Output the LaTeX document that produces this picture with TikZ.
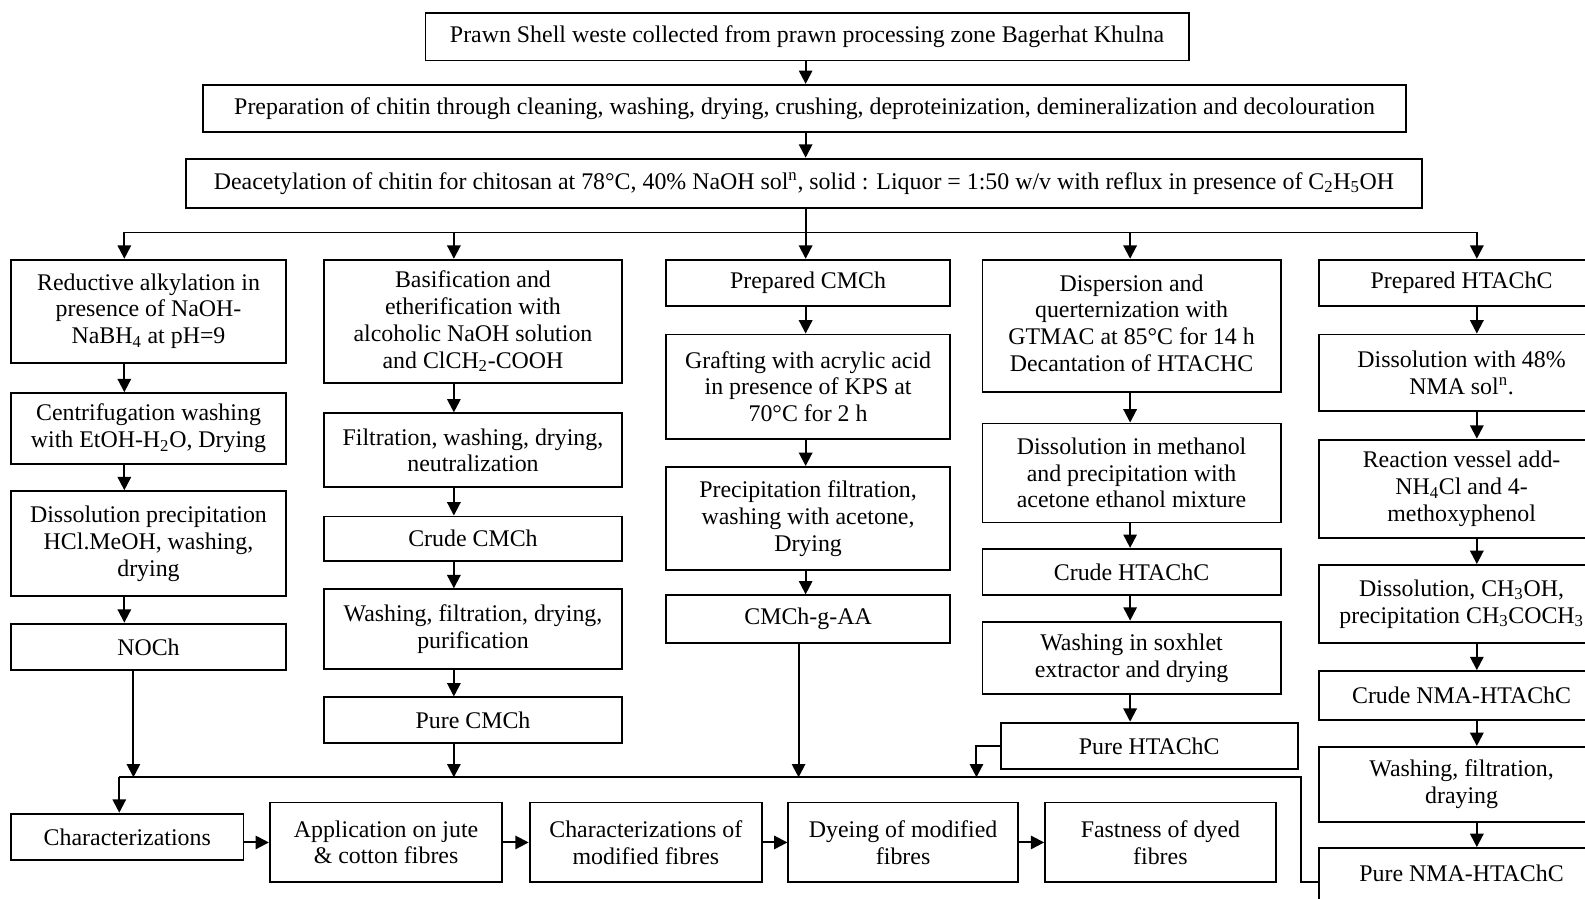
\documentclass[tikz,border=0pt]{standalone}
\usepackage{fontspec}
\setmainfont{Liberation Serif}
\usetikzlibrary{arrows.meta,calc}
\tikzset{
 box/.style={draw, line width=1.3pt, inner sep=0pt, align=center, font=\fontsize{16.8pt}{18.8pt}\selectfont, anchor=north west},
 arr/.style={line width=1.4pt, -{Triangle[width=0.33cm,length=0.33cm]}},
 ln/.style={line width=1.4pt},
}
\newcommand\mybox[6]{\node[box, minimum width={(#4-#2)*0.025cm}, minimum height={(#5-#3)*0.025cm}] (#1) at (#2,#3) {#6};}
\begin{document}
\begin{tikzpicture}[x=0.025cm,y=-0.025cm]
\clip (0,0) rectangle (1568,889);
% top
\mybox{a}{420}{12}{1175}{59}{Prawn Shell weste collected from prawn processing zone Bagerhat Khulna}
\mybox{b}{200}{83}{1390}{130}{Preparation of chitin through cleaning, washing, drying, crushing, deproteinization, demineralization and decolouration}
\mybox{c}{183}{156}{1406}{205}{Deacetylation of chitin for chitosan at 78°C, 40\% NaOH sol\textsuperscript{n}, solid : Liquor = 1:50 w/v with reflux in presence of C\textsubscript{2}H\textsubscript{5}OH}
% column 1
\mybox{p1}{10}{256}{282}{358}{Reductive alkylation in\\presence of NaOH-\\NaBH\textsubscript{4} at pH=9}
\mybox{p2}{10}{388}{282}{458}{Centrifugation washing\\with EtOH-H\textsubscript{2}O, Drying}
\mybox{p3}{10}{485}{282}{589}{Dissolution precipitation\\HCl.MeOH, washing,\\drying}
\mybox{p4}{10}{616}{282}{662}{NOCh}
% column 2
\mybox{q1}{320}{256}{614}{378}{Basification and\\etherification with\\alcoholic NaOH solution\\and ClCH\textsubscript{2}-COOH}
\mybox{q2}{320}{408}{614}{481}{Filtration, washing, drying,\\neutralization}
\mybox{q3}{320}{510}{614}{554}{Crude CMCh}
\mybox{q4}{320}{582}{614}{661}{Washing, filtration, drying,\\purification}
\mybox{q5}{320}{689}{614}{734}{Pure CMCh}
% column 3
\mybox{r1}{658}{256}{939}{302}{Prepared CMCh}
\mybox{r2}{658}{330}{939}{433}{Grafting with acrylic acid\\in presence of KPS at\\70°C for 2 h}
\mybox{r3}{658}{461}{939}{563}{Precipitation filtration,\\washing with acetone,\\Drying}
\mybox{r4}{658}{588}{939}{635}{CMCh-g-AA}
% column 4
\mybox{s1}{971}{256}{1266}{387}{\raisebox{0.1cm}{\begin{tabular}{@{}c@{}}Dispersion and\\querternization with\\GTMAC at 85°C for 14 h\\Decantation of HTACHC\end{tabular}}}
\mybox{s2}{971}{418}{1266}{516}{Dissolution in methanol\\and precipitation with\\acetone ethanol mixture}
\mybox{s3}{971}{542}{1266}{588}{Crude HTAChC}
\mybox{s4}{971}{614}{1266}{686}{Washing in soxhlet\\extractor and drying}
\mybox{s5}{989}{714}{1283}{760}{Pure HTAChC}
% column 5
\mybox{t1}{1304}{256}{1586}{302}{Prepared HTAChC}
\mybox{t2}{1304}{330}{1586}{406}{Dissolution with 48\%\\NMA sol\textsuperscript{n}.}
\mybox{t3}{1304}{434}{1586}{531}{Reaction vessel add-\\NH\textsubscript{4}Cl and 4-\\methoxyphenol}
\mybox{t4}{1304}{558}{1586}{635}{Dissolution, CH\textsubscript{3}OH,\\precipitation CH\textsubscript{3}COCH\textsubscript{3}}
\mybox{t5}{1304}{663}{1586}{711}{Crude NMA-HTAChC}
\mybox{t6}{1304}{738}{1586}{812}{Washing, filtration,\\draying}
\mybox{t7}{1304}{838}{1586}{906}{\raisebox{0.45cm}{Pure NMA-HTAChC}}
% bottom row
\mybox{u1}{10}{804}{240}{850}{Characterizations}
\mybox{u2}{266}{793}{496}{872}{Application on jute\\\& cotton fibres}
\mybox{u3}{523}{793}{753}{872}{Characterizations of\\modified fibres}
\mybox{u4}{779}{793}{1006}{872}{Dyeing of modified\\fibres}
\mybox{u5}{1033}{793}{1261}{872}{Fastness of dyed\\fibres}
% column x positions
\coordinate (c1) at (123,0);
\coordinate (c2) at (449,0);
\coordinate (c3) at (797,0);
\coordinate (c4) at (1118,0);
\coordinate (c5) at (1461,0);
% top arrows
\draw[arr] (a.south -| c3) -- (b.north -| c3);
\draw[arr] (b.south -| c3) -- (c.north -| c3);
\coordinate (tb) at (797,230);
\draw[ln] (c.south -| c3) -- (tb);
\draw[ln] (tb -| c1) -- (tb -| c5);
\draw[arr] (tb -| c1) -- (p1.north -| c1);
\draw[arr] (tb -| c2) -- (q1.north -| c2);
\draw[arr] (tb -| c3) -- (r1.north -| c3);
\draw[arr] (tb -| c4) -- (s1.north -| c4);
\draw[arr] (tb -| c5) -- (t1.north -| c5);
% column arrows
\draw[arr] (p1.south -| c1) -- (p2.north -| c1);
\draw[arr] (p2.south -| c1) -- (p3.north -| c1);
\draw[arr] (p3.south -| c1) -- (p4.north -| c1);
\draw[arr] (q1.south -| c2) -- (q2.north -| c2);
\draw[arr] (q2.south -| c2) -- (q3.north -| c2);
\draw[arr] (q3.south -| c2) -- (q4.north -| c2);
\draw[arr] (q4.south -| c2) -- (q5.north -| c2);
\draw[arr] (r1.south -| c3) -- (r2.north -| c3);
\draw[arr] (r2.south -| c3) -- (r3.north -| c3);
\draw[arr] (r3.south -| c3) -- (r4.north -| c3);
\draw[arr] (s1.south -| c4) -- (s2.north -| c4);
\draw[arr] (s2.south -| c4) -- (s3.north -| c4);
\draw[arr] (s3.south -| c4) -- (s4.north -| c4);
\draw[arr] (s4.south -| c4) -- (s5.north -| c4);
\draw[arr] (t1.south -| c5) -- (t2.north -| c5);
\draw[arr] (t2.south -| c5) -- (t3.north -| c5);
\draw[arr] (t3.south -| c5) -- (t4.north -| c5);
\draw[arr] (t4.south -| c5) -- (t5.north -| c5);
\draw[arr] (t5.south -| c5) -- (t6.north -| c5);
\draw[arr] (t6.south -| c5) -- (t7.north -| c5);
% bottom bus
\coordinate (busL) at (118,769);
\coordinate (busR) at (1287,769);
\coordinate (k1) at (132,0);
\coordinate (k3) at (790,0);
\coordinate (k4) at (966,0);
\draw[ln] (t7.west) -| (busR) -- (busL);
\draw[arr] (busL) -- (u1.north -| busL);
\draw[arr] (p4.south -| k1) -- (busL -| k1);
\draw[arr] (q5.south -| c2) -- (busL -| c2);
\draw[arr] (r4.south -| k3) -- (busL -| k3);
\draw[arr] (s5.west) -| (busL -| k4);
% bottom row arrows
\draw[arr] (u1.east |- u2.west) -- (u2.west);
\draw[arr] (u2.east) -- (u3.west);
\draw[arr] (u3.east) -- (u4.west);
\draw[arr] (u4.east) -- (u5.west);
\end{tikzpicture}
\end{document}
